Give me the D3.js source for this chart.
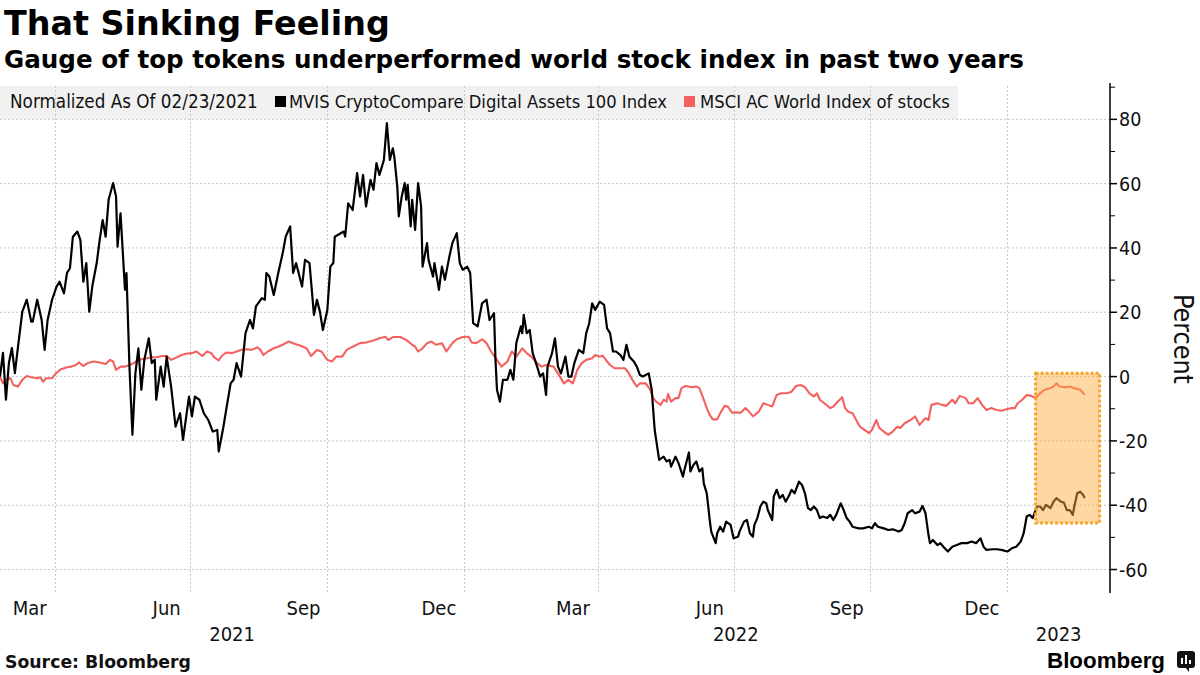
<!DOCTYPE html>
<html><head><meta charset="utf-8">
<script src="https://cdn.jsdelivr.net/npm/d3@7"></script>
<style>
body{margin:0;background:#fff;}
svg{display:block;}
</style></head><body>
<svg id="chart" width="1200" height="675"></svg>
<script>
// ---------------- DATA ----------------
const cryptoDates = ["2021-02-23","2021-02-25","2021-02-27","2021-03-01","2021-03-03","2021-03-05","2021-03-07","2021-03-10","2021-03-13","2021-03-16","2021-03-17","2021-03-20","2021-03-23","2021-03-25","2021-03-27","2021-03-30","2021-04-02","2021-04-04","2021-04-07","2021-04-09","2021-04-11","2021-04-13","2021-04-16","2021-04-18","2021-04-20","2021-04-22","2021-04-24","2021-04-26","2021-04-29","2021-05-01","2021-05-03","2021-05-05","2021-05-07","2021-05-10","2021-05-12","2021-05-13","2021-05-15","2021-05-18","2021-05-19","2021-05-21","2021-05-23","2021-05-25","2021-05-27","2021-05-29","2021-05-31","2021-06-03","2021-06-05","2021-06-07","2021-06-08","2021-06-11","2021-06-13","2021-06-15","2021-06-18","2021-06-21","2021-06-24","2021-06-26","2021-06-30","2021-07-02","2021-07-04","2021-07-07","2021-07-10","2021-07-13","2021-07-16","2021-07-19","2021-07-20","2021-07-23","2021-07-25","2021-07-28","2021-07-30","2021-08-01","2021-08-04","2021-08-07","2021-08-10","2021-08-12","2021-08-14","2021-08-18","2021-08-20","2021-08-21","2021-08-23","2021-08-26","2021-08-29","2021-09-01","2021-09-03","2021-09-06","2021-09-08","2021-09-10","2021-09-14","2021-09-16","2021-09-19","2021-09-22","2021-09-24","2021-09-26","2021-09-28","2021-10-01","2021-10-03","2021-10-05","2021-10-06","2021-10-12","2021-10-13","2021-10-15","2021-10-18","2021-10-21","2021-10-23","2021-10-25","2021-10-27","2021-10-30","2021-11-01","2021-11-03","2021-11-05","2021-11-08","2021-11-10","2021-11-12","2021-11-14","2021-11-15","2021-11-17","2021-11-18","2021-11-20","2021-11-22","2021-11-23","2021-11-24","2021-11-26","2021-11-27","2021-11-29","2021-12-01","2021-12-03","2021-12-04","2021-12-07","2021-12-08","2021-12-11","2021-12-12","2021-12-15","2021-12-17","2021-12-19","2021-12-22","2021-12-24","2021-12-27","2021-12-29","2021-12-31","2022-01-03","2022-01-05","2022-01-07","2022-01-10","2022-01-13","2022-01-16","2022-01-18","2022-01-21","2022-01-22","2022-01-23","2022-01-25","2022-01-27","2022-01-30","2022-02-01","2022-02-03","2022-02-05","2022-02-08","2022-02-09","2022-02-10","2022-02-12","2022-02-14","2022-02-16","2022-02-19","2022-02-21","2022-02-23","2022-02-25","2022-02-26","2022-03-01","2022-03-03","2022-03-05","2022-03-07","2022-03-10","2022-03-12","2022-03-14","2022-03-16","2022-03-19","2022-03-22","2022-03-24","2022-03-26","2022-03-28","2022-03-30","2022-04-02","2022-04-05","2022-04-07","2022-04-09","2022-04-11","2022-04-13","2022-04-16","2022-04-18","2022-04-20","2022-04-22","2022-04-25","2022-04-27","2022-04-29","2022-05-01","2022-05-05","2022-05-07","2022-05-09","2022-05-12","2022-05-15","2022-05-17","2022-05-19","2022-05-20","2022-05-23","2022-05-25","2022-05-28","2022-05-29","2022-06-01","2022-06-02","2022-06-04","2022-06-06","2022-06-08","2022-06-10","2022-06-11","2022-06-13","2022-06-15","2022-06-16","2022-06-19","2022-06-20","2022-06-22","2022-06-24","2022-06-26","2022-06-29","2022-07-01","2022-07-04","2022-07-05","2022-07-08","2022-07-10","2022-07-12","2022-07-14","2022-07-15","2022-07-17","2022-07-19","2022-07-21","2022-07-23","2022-07-24","2022-07-27","2022-07-28","2022-07-30","2022-08-01","2022-08-03","2022-08-05","2022-08-07","2022-08-09","2022-08-11","2022-08-14","2022-08-16","2022-08-18","2022-08-20","2022-08-22","2022-08-24","2022-08-26","2022-08-28","2022-08-30","2022-09-02","2022-09-04","2022-09-06","2022-09-08","2022-09-11","2022-09-13","2022-09-15","2022-09-17","2022-09-19","2022-09-23","2022-09-26","2022-09-30","2022-10-02","2022-10-04","2022-10-06","2022-10-10","2022-10-13","2022-10-16","2022-10-20","2022-10-22","2022-10-24","2022-10-26","2022-10-29","2022-10-31","2022-11-03","2022-11-05","2022-11-07","2022-11-09","2022-11-10","2022-11-12","2022-11-15","2022-11-17","2022-11-19","2022-11-22","2022-11-25","2022-11-28","2022-12-01","2022-12-05","2022-12-08","2022-12-11","2022-12-14","2022-12-16","2022-12-18","2022-12-22","2022-12-25","2022-12-28","2023-01-01","2023-01-04","2023-01-07","2023-01-10","2023-01-12","2023-01-14","2023-01-16","2023-01-18","2023-01-21","2023-01-23","2023-01-25","2023-01-27","2023-01-30","2023-02-01","2023-02-03","2023-02-06","2023-02-08","2023-02-10","2023-02-12","2023-02-14","2023-02-15","2023-02-17","2023-02-19","2023-02-21","2023-02-22"];
const cryptoValues = [0,7.4,-7.2,4.3,8.9,1.1,8.9,20.2,23.9,17.1,17.1,23.9,17.6,8.3,17.6,23.9,28,29.5,25.9,32.2,33.7,43.5,45.1,42.5,29.5,35.3,20.2,28,35.3,42.5,48.7,43.5,55,60.2,56,40.4,50.8,27,32.2,3.1,-18.1,1,8.8,-4.1,5.2,11.9,4.2,5.2,-7.2,3.1,-3.1,6.2,-3.1,-15.6,-11.4,-19.7,-6.2,-12.4,-6.2,-7.2,-11.4,-13.5,-17.1,-16.6,-23.3,-16,-10.4,-2.1,-1,4.2,0,13.5,17.6,15,21.8,24.4,23.9,32.2,31.1,25.4,32.2,38.4,43.5,46.7,32.2,35.3,28,36.3,35.3,19.2,23.9,20.2,14.5,20.7,34.2,35.3,43.5,45.1,43.5,53.9,51.8,63.3,56,62.7,52.9,61.2,58.1,66.4,62.7,67.4,78.8,67.4,71,68.4,59.1,49.8,56,60.2,55,59.6,46.7,55,45.6,60.2,52.9,34.2,41.5,36.3,31.1,35.3,27,34.2,30.1,37.3,41.5,44.6,35.3,33.2,34.2,32.2,16.6,15.6,22.8,23.9,17.6,19.7,5.2,-4.1,-7.8,-1,-1,2.1,-1,10.4,15.6,13.5,19.2,13.5,14.5,7.3,3.1,0,1,-5.7,3.1,7.3,11.9,3.1,1,6.2,0,0,4.2,8.3,7.3,13.5,16.6,22.8,20.7,23.3,22.3,15,13.5,7.8,7.8,6.7,5.2,9.9,6.2,4.7,3.1,0.5,0,1,-4.1,-16.6,-25.9,-24.9,-26.4,-25.9,-28,-24.9,-26.9,-31.1,-29,-23.6,-29.5,-27.5,-26.4,-29.5,-28.5,-33.2,-36.3,-44.6,-48.2,-51.8,-48.7,-46.7,-48.2,-45.1,-46.1,-50.3,-49.8,-48.2,-45.1,-44.6,-48.7,-49.8,-46.1,-44,-40.4,-38.9,-39.4,-41.5,-44.6,-37.3,-35.2,-37.8,-36.8,-38.9,-37.3,-35.2,-36.3,-32.7,-33.7,-36.3,-40.9,-41.5,-40.4,-41.5,-44,-43.5,-44,-43,-44.6,-43,-39.4,-41.5,-44,-45.1,-46.7,-47.2,-47.2,-46.7,-47.2,-45.6,-46.7,-47.2,-47.7,-47.5,-48.2,-47.7,-45.6,-42.5,-41.5,-42.5,-42,-40.2,-42.5,-49.2,-51.8,-50.8,-52.4,-51.8,-52.9,-54.4,-52.9,-52.4,-51.8,-51.8,-51.3,-51.8,-50.3,-52.9,-53.9,-53.7,-53.7,-53.9,-54.4,-53.4,-52.9,-51.3,-48.7,-43.5,-43,-44,-40.4,-40.4,-41.5,-39.9,-40.9,-38.9,-37.8,-38.9,-39.2,-41.5,-41.5,-43,-40.4,-36.3,-35.8,-36.8,-37.8];

const msciDates = ["2021-02-23","2021-02-25","2021-02-27","2021-03-02","2021-03-04","2021-03-07","2021-03-10","2021-03-13","2021-03-16","2021-03-20","2021-03-22","2021-03-24","2021-03-26","2021-03-30","2021-04-02","2021-04-05","2021-04-09","2021-04-12","2021-04-15","2021-04-17","2021-04-20","2021-04-23","2021-04-27","2021-05-01","2021-05-05","2021-05-08","2021-05-10","2021-05-12","2021-05-15","2021-05-18","2021-05-21","2021-05-24","2021-05-26","2021-05-29","2021-06-02","2021-06-05","2021-06-08","2021-06-12","2021-06-15","2021-06-18","2021-06-22","2021-06-25","2021-06-28","2021-07-02","2021-07-05","2021-07-09","2021-07-12","2021-07-15","2021-07-17","2021-07-20","2021-07-22","2021-07-25","2021-07-29","2021-08-01","2021-08-04","2021-08-08","2021-08-11","2021-08-15","2021-08-17","2021-08-19","2021-08-22","2021-08-26","2021-08-29","2021-09-01","2021-09-05","2021-09-08","2021-09-13","2021-09-17","2021-09-20","2021-09-24","2021-09-27","2021-10-01","2021-10-04","2021-10-07","2021-10-11","2021-10-14","2021-10-18","2021-10-23","2021-10-27","2021-11-01","2021-11-05","2021-11-09","2021-11-11","2021-11-14","2021-11-19","2021-11-23","2021-11-27","2021-11-29","2021-12-01","2021-12-04","2021-12-07","2021-12-10","2021-12-13","2021-12-17","2021-12-20","2021-12-24","2021-12-27","2021-12-31","2022-01-04","2022-01-06","2022-01-09","2022-01-13","2022-01-16","2022-01-19","2022-01-23","2022-01-26","2022-01-30","2022-02-02","2022-02-05","2022-02-09","2022-02-12","2022-02-15","2022-02-19","2022-02-22","2022-02-25","2022-03-02","2022-03-05","2022-03-09","2022-03-12","2022-03-15","2022-03-18","2022-03-21","2022-03-24","2022-03-28","2022-03-30","2022-04-02","2022-04-04","2022-04-07","2022-04-09","2022-04-12","2022-04-16","2022-04-19","2022-04-21","2022-04-24","2022-04-27","2022-04-29","2022-05-03","2022-05-06","2022-05-08","2022-05-10","2022-05-13","2022-05-15","2022-05-17","2022-05-18","2022-05-20","2022-05-23","2022-05-25","2022-05-27","2022-05-30","2022-06-03","2022-06-06","2022-06-08","2022-06-11","2022-06-13","2022-06-15","2022-06-17","2022-06-20","2022-06-22","2022-06-25","2022-06-27","2022-06-30","2022-07-03","2022-07-06","2022-07-09","2022-07-12","2022-07-14","2022-07-18","2022-07-21","2022-07-24","2022-07-27","2022-07-30","2022-08-02","2022-08-06","2022-08-09","2022-08-12","2022-08-15","2022-08-18","2022-08-21","2022-08-24","2022-08-26","2022-08-28","2022-08-31","2022-09-04","2022-09-06","2022-09-09","2022-09-12","2022-09-14","2022-09-16","2022-09-19","2022-09-22","2022-09-24","2022-09-27","2022-09-30","2022-10-02","2022-10-05","2022-10-07","2022-10-10","2022-10-13","2022-10-16","2022-10-19","2022-10-21","2022-10-24","2022-10-28","2022-10-31","2022-11-03","2022-11-07","2022-11-09","2022-11-11","2022-11-15","2022-11-18","2022-11-21","2022-11-25","2022-11-27","2022-11-30","2022-12-04","2022-12-06","2022-12-09","2022-12-12","2022-12-15","2022-12-18","2022-12-21","2022-12-25","2022-12-28","2023-01-01","2023-01-04","2023-01-06","2023-01-08","2023-01-11","2023-01-14","2023-01-17","2023-01-20","2023-01-23","2023-01-26","2023-01-30","2023-02-01","2023-02-03","2023-02-05","2023-02-09","2023-02-12","2023-02-15","2023-02-19","2023-02-22"];
const msciValues = [0,-2.1,-1,-0.5,-2.6,-3.1,-1,0.2,-0.2,-0.5,-0.2,-1.6,-0.5,-0.5,1.2,2.3,2.9,3.1,3.6,4.4,3.3,4.2,4.7,4.4,3.9,5.2,4.7,2.1,3.1,3.1,3.6,4.2,4.9,5.4,5.7,6,6,6.4,6.4,5.2,6,6.7,7.1,7.3,7.8,6.4,7.8,7.3,6,5,6.4,7.5,7.3,7.8,8.3,8.5,8.3,9.1,8.3,6.7,7.8,8.8,9.3,9.9,10.9,10.4,9.6,8.8,6.4,8.3,7.8,5.2,4.7,6.2,6.2,8.3,9.3,10.4,10.6,11.2,11.9,12.4,11.4,12.3,12.3,11.4,9.9,9.3,7.8,8.8,10.4,10.9,9.9,10.4,7.8,10.4,11.6,12.3,12.4,10.6,10.4,11.6,10.4,7.8,5.2,3.1,4.7,7.8,6.2,8.8,7.3,6.2,4.2,3.1,3.6,3.1,1,-2.1,-1,-2.1,2.1,4.2,5.2,5.7,6.7,6.2,6.5,4.7,3.6,2.6,2.6,2.6,1.5,-1,-3.1,-2.1,-2.1,-4.1,-6.7,-7.8,-8.8,-7.2,-7.8,-5.4,-7.8,-6.7,-6.7,-3.6,-2.9,-3.3,-3.1,-3.6,-7.2,-9.8,-11.9,-13.3,-13.3,-11.4,-9.1,-9.3,-11.2,-11.2,-11.2,-9.8,-11.2,-12.4,-10.9,-8.3,-8.8,-9.3,-5.7,-5.2,-5.2,-4.7,-2.9,-2.6,-3.3,-5.2,-6.2,-5.2,-7.2,-8.3,-9.8,-9.3,-7.8,-6.4,-9.8,-10.9,-11.4,-14,-15.6,-16.6,-17.6,-16.6,-13.5,-16,-17.1,-18.1,-17.1,-15.6,-16,-14.5,-13.5,-12.4,-15,-12.9,-13.5,-8.8,-8.3,-8.8,-9.1,-7.2,-8.3,-6,-6.7,-8.3,-8.3,-6.7,-8.8,-10.4,-9.8,-10.4,-10.6,-10.1,-9.8,-9.8,-8.3,-7.2,-5.7,-6,-6.7,-5.2,-4.1,-3.6,-3.1,-2.1,-3.1,-3.3,-3.1,-3.6,-4.1,-5.7];

const yTicks = [-60, -40, -20, 0, 20, 40, 60, 80];
const yMinorTicks = [-50, -30, -10, 10, 30, 50, 70, 90];
const monthLabels = ["Mar", "Jun", "Sep", "Dec", "Mar", "Jun", "Sep", "Dec"];
const monthStarts = ["2021-03-01", "2021-06-01", "2021-09-01", "2021-12-01", "2022-03-01", "2022-06-01", "2022-09-01", "2022-12-01"];
const yearLabels = ["2021", "2022", "2023"];
const xDomain = ["2021-02-23", "2023-03-11"];
const yDomain = [-67.3, 91.3];
const highlightDates = ["2023-01-20", "2023-03-04"];
const highlightValues = [1, -45.5];
const legendItems = ["MVIS CryptoCompare Digital Assets 100 Index", "MSCI AC World Index of stocks"];

// ---------------- DRAW ----------------
const parse = d3.utcParse("%Y-%m-%d");
const svg = d3.select("#chart");
const COND = "'DejaVu Sans Condensed','DejaVu Sans',sans-serif";
const BOLD = "'DejaVu Sans',sans-serif";
const BLACK = "#000000", RED = "#f4625f";

const x = d3.scaleUtc().domain(xDomain.map(parse)).range([0, 1110]);
const y = d3.scaleLinear().domain(yDomain).range([593, 83]);

function fit(sel, w) {
  const cur = sel.node().getComputedTextLength();
  const fs = parseFloat(sel.attr("font-size"));
  sel.attr("font-size", (fs * w / cur).toFixed(2));
  return sel;
}

// title & subtitle
fit(svg.append("text").attr("x", 4).attr("y", 35).attr("font-family", BOLD).attr("font-weight", "bold")
  .attr("font-size", 31).attr("fill", "#000").text("That Sinking Feeling"), 386);
fit(svg.append("text").attr("x", 4).attr("y", 68).attr("font-family", BOLD).attr("font-weight", "bold")
  .attr("font-size", 21).attr("fill", "#000").text("Gauge of top tokens underperformed world stock index in past two years"), 1020);

// legend background
svg.append("rect").attr("x", 0).attr("y", 86).attr("width", 958).attr("height", 33).attr("fill", "#f1f1f1");

// gridlines
const grid = svg.append("g");
grid.selectAll("line.h").data(yTicks).join("line")
  .attr("x1", 0).attr("x2", 1110).attr("y1", d => y(d)).attr("y2", d => y(d))
  .attr("stroke", "#c8c8c8").attr("stroke-width", 1).attr("stroke-dasharray", "2,2");
const gridDates = monthStarts.map(s => d3.utcMonth.offset(parse(s), 1));
grid.selectAll("line.v").data(gridDates).join("line")
  .attr("x1", d => Math.round(x(d)) + 0.5).attr("x2", d => Math.round(x(d)) + 0.5)
  .attr("y1", 86).attr("y2", 593)
  .attr("stroke", "#c8c8c8").attr("stroke-width", 1).attr("stroke-dasharray", "2,2");

// series
const cryptoData = cryptoDates.map((d, i) => ({ date: parse(d), value: cryptoValues[i] }));
const msciData = msciDates.map((d, i) => ({ date: parse(d), value: msciValues[i] }));
const line = d3.line().x(d => x(d.date)).y(d => y(d.value));

svg.append("path").datum(msciData).attr("d", line).attr("fill", "none")
  .attr("stroke", RED).attr("stroke-width", 2.1).attr("stroke-linejoin", "round");
svg.append("path").datum(cryptoData).attr("d", line).attr("fill", "none")
  .attr("stroke", BLACK).attr("stroke-width", 2.2).attr("stroke-linejoin", "round");

// highlight box
const hx0 = x(parse(highlightDates[0])), hx1 = x(parse(highlightDates[1]));
const hy0 = y(highlightValues[0]), hy1 = y(highlightValues[1]);
svg.append("rect").attr("x", hx0).attr("y", hy0).attr("width", hx1 - hx0).attr("height", hy1 - hy0)
  .attr("fill", "#ffab3d").attr("fill-opacity", 0.48)
  .attr("stroke", "#f5a52a").attr("stroke-width", 3).attr("stroke-dasharray", "3,2");

// legend text
const legY = 108;
fit(svg.append("text").attr("x", 10).attr("y", legY).attr("font-family", COND).attr("font-size", 16.5)
  .attr("fill", "#111").text("Normalized As Of 02/23/2021"), 248);
svg.append("rect").attr("x", 275).attr("y", 96).attr("width", 11).attr("height", 11).attr("fill", BLACK);
fit(svg.append("text").attr("x", 289).attr("y", legY).attr("font-family", COND).attr("font-size", 16.5)
  .attr("fill", "#111").text(legendItems[0]), 378);
svg.append("rect").attr("x", 684).attr("y", 96).attr("width", 11).attr("height", 11).attr("fill", RED);
fit(svg.append("text").attr("x", 700).attr("y", legY).attr("font-family", COND).attr("font-size", 16.5)
  .attr("fill", "#111").text(legendItems[1]), 250);

// y axis
const ax = svg.append("g");
ax.append("line").attr("x1", 1110).attr("x2", 1110).attr("y1", 83).attr("y2", 593)
  .attr("stroke", "#000").attr("stroke-width", 1.5);
ax.selectAll("line.maj").data(yTicks).join("line")
  .attr("x1", 1110).attr("x2", 1117).attr("y1", d => y(d)).attr("y2", d => y(d))
  .attr("stroke", "#000").attr("stroke-width", 1.5);
ax.selectAll("line.min").data(yMinorTicks).join("line")
  .attr("x1", 1110).attr("x2", 1115).attr("y1", d => y(d)).attr("y2", d => y(d))
  .attr("stroke", "#000").attr("stroke-width", 1);
ax.selectAll("text").data(yTicks).join("text")
  .attr("x", 1119).attr("y", d => y(d)).attr("dy", "0.36em")
  .attr("font-family", COND).attr("font-size", 19.5).attr("fill", "#111")
  .text(d => d3.format("d")(d).replace("−", "-"));
fit(svg.append("text").attr("transform", "translate(1174,339) rotate(90)")
  .attr("text-anchor", "middle").attr("font-family", COND).attr("font-size", 23).attr("fill", "#111")
  .text("Percent"), 90);

// x axis labels
const xl = svg.append("g");
xl.selectAll("text.m").data(monthStarts).join("text")
  .attr("x", d => x(d3.utcDay.offset(parse(d), 14))).attr("y", 615)
  .attr("text-anchor", "middle").attr("font-family", COND).attr("font-size", 20).attr("fill", "#111")
  .text((d, i) => monthLabels[i]);
const [d0, d1] = x.domain();
xl.selectAll("text.y").data(yearLabels).join("text")
  .attr("x", d => {
    const a = new Date(Math.max(Date.UTC(+d, 0, 1), d0));
    const b = new Date(Math.min(Date.UTC(+d + 1, 0, 1), d1));
    return (x(a) + x(b)) / 2;
  })
  .attr("y", 641).attr("text-anchor", "middle").attr("font-family", COND).attr("font-size", 20).attr("fill", "#111")
  .text(d => d);

// footer
fit(svg.append("text").attr("x", 5).attr("y", 668).attr("font-family", BOLD).attr("font-weight", "bold")
  .attr("font-size", 16).attr("fill", "#111").text("Source: Bloomberg"), 186);
fit(svg.append("text").attr("x", 1047).attr("y", 668).attr("font-family", "'Liberation Sans',Arial,sans-serif").attr("font-weight", "bold")
  .attr("font-size", 23).attr("fill", "#000").text("Bloomberg"), 118);
const logo = svg.append("g").attr("transform", "translate(1177,651)");
logo.append("rect").attr("width", 18).attr("height", 17).attr("rx", 3).attr("fill", "#111");
logo.append("path").attr("d", "M9,17 L12,21 L12,17 Z").attr("fill", "#111");
logo.selectAll("rect.b").data([[4, 7], [8, 4], [12, 9]]).join("rect")
  .attr("x", d => d[0]).attr("y", d => d[1]).attr("width", 2).attr("height", d => 13 - d[1]).attr("fill", "#fff");
</script>
</body></html>
